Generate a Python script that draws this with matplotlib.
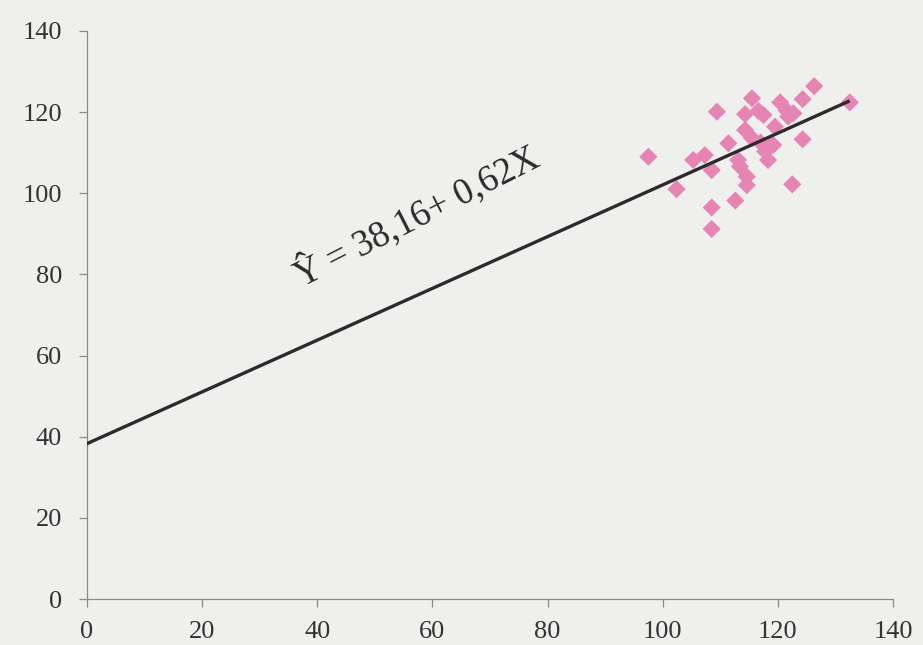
import matplotlib
matplotlib.use("Agg")
import matplotlib.pyplot as plt

# Data
x_vals = [126.3, 124.3, 132.5, 115.5, 120.4, 109.4, 114.3, 116.6, 117.5, 121.5,
          122.7, 121.8, 114.3, 115.5, 119.5, 111.4, 124.3, 118.6, 117.8, 119.2,
          118.3, 97.5, 105.3, 107.3, 108.5, 113.1, 113.4, 114.6, 114.6, 102.4,
          122.5, 112.6, 108.5, 108.5, 117.0]
y_vals = [126.4, 123.2, 122.4, 123.4, 122.4, 120.1, 119.5, 120.3, 119.3, 120.4,
          119.7, 118.9, 115.6, 113.6, 116.4, 112.3, 113.3, 111.5, 110.3, 111.9,
          108.2, 109.0, 108.2, 109.4, 105.7, 108.2, 106.6, 104.1, 102.0, 101.0,
          102.2, 98.2, 96.5, 91.2, 112.5]
# regression line end points as drawn in the picture
line_x = [0, 132.2]
line_y = [38.3, 122.6]
x_ticks = [0, 20, 40, 60, 80, 100, 120, 140]
y_ticks = [0, 20, 40, 60, 80, 100, 120, 140]
equation = "Ŷ = 38,16+ 0,62X"

bg = "#efefed"
fig = plt.figure(figsize=(9.23, 6.45), dpi=100, facecolor=bg)
ax = fig.add_axes([0.0943, 0.0713, 0.8732, 0.8807], facecolor=bg)

ax.scatter(x_vals, y_vals, marker="D", s=85, color="#e684b4", edgecolors="none", zorder=2)
ax.plot(line_x, line_y, color="#2e2a2c", lw=2.4, zorder=3)

ax.set_xlim(0, 140)
ax.set_ylim(0, 140)
ax.set_xticks(x_ticks)
ax.set_yticks(y_ticks)
ax.set_xticklabels([str(t) for t in x_ticks])
ax.set_yticklabels([str(t) for t in y_ticks])

for s in ["top", "right"]:
    ax.spines[s].set_visible(False)
for s in ["left", "bottom"]:
    ax.spines[s].set_color("#8a8a8a")
    ax.spines[s].set_linewidth(0.9)

ax.tick_params(axis="both", direction="out", length=6, width=0.9, color="#8a8a8a",
               labelsize=19, labelcolor="#333333")
for lab in ax.get_xticklabels() + ax.get_yticklabels():
    lab.set_fontfamily("Liberation Serif")
ax.tick_params(axis="x", pad=10)
ax.tick_params(axis="y", pad=12)

ax.text(57.2, 94.6, equation, rotation=27, ha="center", va="center",
        fontsize=26.5, family="Liberation Serif", color="#2a2a2a",
        rotation_mode="anchor")

fig.savefig("out.png", dpi=100, facecolor=bg)
